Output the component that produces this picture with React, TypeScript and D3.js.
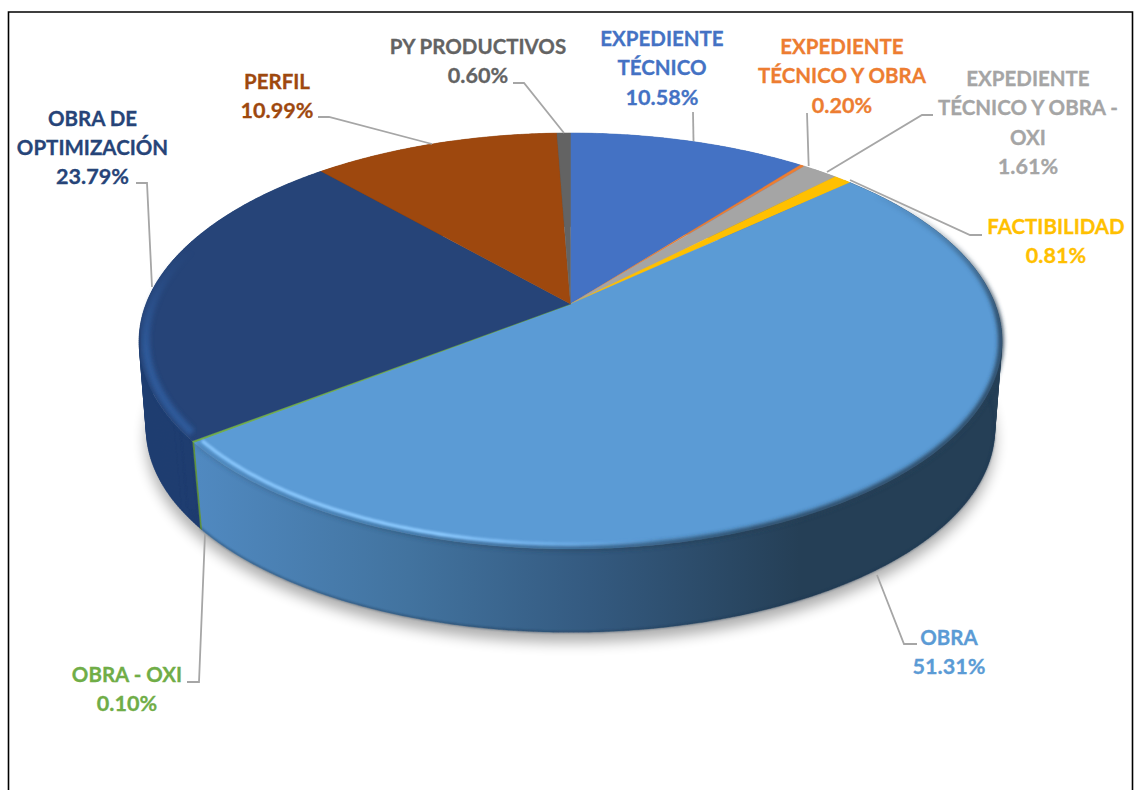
import React from "react";
import * as d3 from "d3";

// ---- Data (clockwise from 12 o'clock) ----
const categories = [
  "EXPEDIENTE TÉCNICO",
  "EXPEDIENTE TÉCNICO Y OBRA",
  "EXPEDIENTE TÉCNICO Y OBRA - OXI",
  "FACTIBILIDAD",
  "OBRA",
  "OBRA - OXI",
  "OBRA DE OPTIMIZACIÓN",
  "PERFIL",
  "PY PRODUCTIVOS",
];
const shares = [10.58, 0.2, 1.61, 0.81, 51.31, 0.1, 23.79, 10.99, 0.6];
const labelLines = [
  ["EXPEDIENTE", "TÉCNICO"],
  ["EXPEDIENTE", "TÉCNICO Y OBRA"],
  ["EXPEDIENTE", "TÉCNICO Y OBRA -", "OXI"],
  ["FACTIBILIDAD"],
  ["OBRA"],
  ["OBRA - OXI"],
  ["OBRA DE", "OPTIMIZACIÓN"],
  ["PERFIL"],
  ["PY PRODUCTIVOS"],
];

// ---- Styles and layout ----
const colors = ["#4472c4", "#ed7d31", "#a5a5a5", "#ffc000", "#5b9bd5", "#70ad47", "#264478", "#9e480e", "#636363"];
const wallColors = ["#3a62a8", "#c9692a", "#8c8c8c", "#d9a300", "url(#obraWall)", "#5f933c", "#1f3d70", "#843c0c", "#545454"];
const labelAnchors: [number, number][] = [
  [662, 46], [842, 54], [1028, 86], [1056, 234], [949, 645], [127, 682], [92.5, 125.5], [277, 89], [478, 54],
];
const lineStep = 29.4;
const leaders: [number, number][][] = [
  [[693, 112], [693.5, 141]],
  [[807, 113], [808.7, 166]],
  [[933, 115], [922, 115], [827, 172]],
  [[850, 180], [970, 235], [982, 235]],
  [[877, 575], [904, 644], [917, 644]],
  [[205, 534], [199, 682], [187, 682]],
  [[136, 183], [147, 183], [152, 287]],
  [[318, 117], [329, 117], [432, 144]],
  [[513, 83], [524, 83], [564, 133]],
];
const topRing = { cx: 570.5, cy: 304, a: 424.5, b: 201.4, k: 0.178 };
const lowRing = { cx: 570.5, cy: 395, a: 418, b: 197, k: 0.17 };
type Ring = typeof topRing;

const project = (ring: Ring, theta: number, r = 1): [number, number] => {
  const X = r * Math.sin(theta);
  const Y = -r * Math.cos(theta);
  const d = 1 - ring.k * Y;
  return [ring.cx + (ring.a * X) / d, ring.cy + (ring.b * Y) / d];
};
const arcPoints = (ring: Ring, t0: number, t1: number, r = 1): [number, number][] => {
  const n = Math.max(2, Math.ceil(Math.abs(t1 - t0) / 0.01));
  return d3.range(n + 1).map((i) => project(ring, t0 + ((t1 - t0) * i) / n, r));
};
const line = d3.line<[number, number]>();
const TAU = Math.PI * 2;

const arcs = d3
  .pie<number>()
  .sort(null)
  .value((d) => d)(shares);

const slicePath = (t0: number, t1: number) =>
  line([[topRing.cx, topRing.cy] as [number, number], ...arcPoints(topRing, t0, t1)])! + "Z";

// The wall is a strip of small quads, all wound the same way, so that it fills
// the silhouette where the top and bottom rims overhang each other.
const wallPath = (t0: number, t1: number) => {
  const up = arcPoints(topRing, t0, t1);
  const low = arcPoints(lowRing, t0, t1);
  return d3
    .range(up.length - 1)
    .map((i) => {
      const quad = [up[i], up[i + 1], low[i + 1], low[i]] as [number, number][];
      if (d3.polygonArea(quad) < 0) quad.reverse();
      return line(quad)! + "Z";
    })
    .join("");
};

const obra = arcs[4];
const navy = arcs[6];

export default function App() {
  return (
    <svg
      width={1134}
      height={790}
      style={{ position: "absolute", left: 0, top: 0, background: "#fff" }}
      fontFamily="Lato, Carlito, sans-serif"
      fontWeight={700}
    >
      <defs>
        <linearGradient id="obraWall" gradientUnits="userSpaceOnUse" x1={198} x2={800} y1={0} y2={0}>
          <stop offset="0" stopColor="#5089c0" />
          <stop offset="0.35" stopColor="#42739f" />
          <stop offset="0.65" stopColor="#345a80" />
          <stop offset="1" stopColor="#253f56" />
        </linearGradient>
        <linearGradient id="rimDark" gradientUnits="userSpaceOnUse" x1={198} x2={1002} y1={0} y2={0}>
          <stop offset="0" stopColor="#2a4a6a" stopOpacity={0.25} />
          <stop offset="0.45" stopColor="#26445f" stopOpacity={0.6} />
          <stop offset="0.7" stopColor="#253f56" stopOpacity={1} />
          <stop offset="1" stopColor="#253f56" stopOpacity={1} />
        </linearGradient>
        <linearGradient id="rimLight" gradientUnits="userSpaceOnUse" x1={198} x2={1002} y1={0} y2={0}>
          <stop offset="0" stopColor="#8ccaff" stopOpacity={0.9} />
          <stop offset="0.3" stopColor="#8ccaff" stopOpacity={1} />
          <stop offset="0.48" stopColor="#7cbcf8" stopOpacity={0.5} />
          <stop offset="0.58" stopColor="#7cbcf8" stopOpacity={0} />
        </linearGradient>
        <linearGradient id="fadeA" gradientUnits="userSpaceOnUse" x1={0} x2={0} y1={190} y2={320}>
          <stop offset="0" stopColor="#000" />
          <stop offset="1" stopColor="#fff" />
        </linearGradient>
        <linearGradient id="fadeB" gradientUnits="userSpaceOnUse" x1={0} x2={0} y1={250} y2={350}>
          <stop offset="0" stopColor="#000" />
          <stop offset="1" stopColor="#fff" />
        </linearGradient>
        <mask id="maskA" maskUnits="userSpaceOnUse" x={0} y={0} width={1134} height={790}>
          <rect width={1134} height={790} fill="url(#fadeA)" />
        </mask>
        <mask id="maskB" maskUnits="userSpaceOnUse" x={0} y={0} width={1134} height={790}>
          <rect width={1134} height={790} fill="url(#fadeB)" />
        </mask>
        <filter id="blurShadow" x="-10%" y="-10%" width="120%" height="120%">
          <feGaussianBlur stdDeviation="7" />
        </filter>
        <filter id="blurRim" x="-10%" y="-10%" width="120%" height="120%">
          <feGaussianBlur stdDeviation="2.2" />
        </filter>
        <filter id="blurThin" x="-10%" y="-10%" width="120%" height="120%">
          <feGaussianBlur stdDeviation="1.2" />
        </filter>
      </defs>

      {/* frame */}
      <path d="M8.5,790V12H1132.5V790" fill="none" stroke="#000" strokeWidth={1.6} />

      {/* drop shadow */}
      <path
        d={line(arcPoints(lowRing, 0, TAU))! + "Z"}
        transform="translate(0,10)"
        fill="#000"
        opacity={0.32}
        filter="url(#blurShadow)"
      />

      {/* side walls */}
      {arcs.map((s, i) => (
        <path key={i} d={wallPath(s.startAngle, s.endAngle)} fill={wallColors[i]} stroke={wallColors[i]} strokeWidth={i === 5 ? 0.8 : 0.3} />
      ))}

      {/* dark lower edge of the wall */}
      <path
        d={line(arcPoints(lowRing, obra.startAngle + 0.35, navy.startAngle, 0.999))!}
        fill="none"
        stroke="#1f3550"
        strokeWidth={1.6}
        opacity={0.6}
        filter="url(#blurThin)"
      />

      {/* top faces */}
      {arcs.map((s, i) => (
        <path key={i} d={slicePath(s.startAngle, s.endAngle)} fill={colors[i]} stroke={colors[i]} strokeWidth={i === 5 ? 0.8 : 0.3} />
      ))}

      {/* bevel along the rim */}
      <g mask="url(#maskA)">
        <path
          d={line(arcPoints(topRing, obra.startAngle + 0.1, obra.endAngle - 0.01, 0.998))!}
          fill="none"
          stroke="url(#rimDark)"
          strokeWidth={5}
          filter="url(#blurRim)"
        />
        <path
          d={line(arcPoints(topRing, obra.startAngle + 1.4, obra.endAngle - 0.005, 0.983))!}
          fill="none"
          stroke="url(#rimLight)"
          strokeWidth={3.4}
          filter="url(#blurThin)"
        />
      </g>
      <g mask="url(#maskB)">
        <path
          d={line(arcPoints(topRing, navy.startAngle + 0.03, navy.startAngle + 0.95, 0.985))!}
          fill="none"
          stroke="#2f5a9a"
          strokeWidth={8}
          filter="url(#blurRim)"
        />
      </g>

      {/* leader lines */}
      {leaders.map((pts, i) => (
        <path key={i} d={line(pts)!} fill="none" stroke="#a6a6a6" strokeWidth={1.8} />
      ))}

      {/* labels */}
      {categories.map((c, i) => {
        const [x, y] = labelAnchors[i];
        const rows = labelLines[i];
        return (
          <text key={c} x={x} y={y} fill={colors[i]} stroke={colors[i]} strokeWidth={0.3} fontSize={20.5} textAnchor="middle">
            {rows.map((r, j) => (
              <tspan key={j} x={x} dy={j === 0 ? 0 : lineStep}>
                {r}
              </tspan>
            ))}
            <tspan x={x} dy={lineStep} fontSize={21.6}>
              {`${shares[i].toFixed(2)}%`}
            </tspan>
          </text>
        );
      })}
    </svg>
  );
}
